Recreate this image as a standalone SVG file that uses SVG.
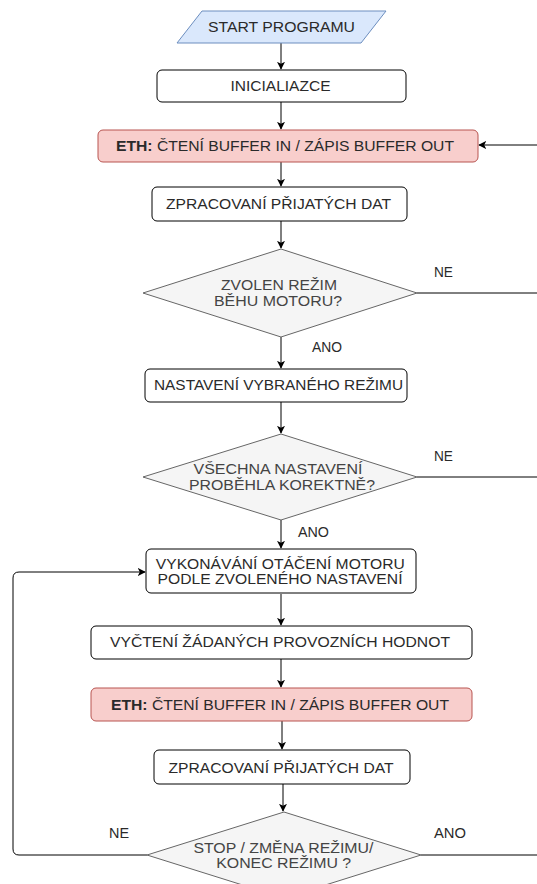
<svg xmlns="http://www.w3.org/2000/svg" width="537" height="884" viewBox="0 0 537 884">
<style>
text{font-family:"Liberation Sans",Arial,sans-serif;font-size:14px;fill:#2a2a2a;text-anchor:middle;dominant-baseline:central}
.box{fill:#fff;stroke:#000;stroke-width:1}
.eth{fill:#f8cecc;stroke:#b85450;stroke-width:1}
.dec{fill:#f5f5f5;stroke:#666;stroke-width:1}
.dt{fill:#444}
.start{fill:#dae8fc;stroke:#6c8ebf;stroke-width:1}
.c{fill:none;stroke:#000;stroke-width:1}
.lbl{text-anchor:start}
</style>
<defs>
<marker id="a" viewBox="0 0 10 10" refX="9" refY="5" markerWidth="8" markerHeight="8" markerUnits="userSpaceOnUse" orient="auto">
<path d="M0,0 L10,5 L0,10 L2.5,5 Z" fill="#000"/>
</marker>
</defs>
<g id="connectors">
<path class="c" d="M281,43 V69" marker-end="url(#a)"/>
<path class="c" d="M281,102 V129" marker-end="url(#a)"/>
<path class="c" d="M281,162 V186" marker-end="url(#a)"/>
<path class="c" d="M281,221 V248" marker-end="url(#a)"/>
<path class="c" d="M537,145 H479" marker-end="url(#a)"/>
<path class="c" d="M417,293 H537"/>
<path class="c" d="M281,337 V368" marker-end="url(#a)"/>
<path class="c" d="M281,402 V433" marker-end="url(#a)"/>
<path class="c" d="M417,477 H537"/>
<path class="c" d="M281,520 V548" marker-end="url(#a)"/>
<path class="c" d="M281,594 V625" marker-end="url(#a)"/>
<path class="c" d="M281,659 V687" marker-end="url(#a)"/>
<path class="c" d="M282,721 V749" marker-end="url(#a)"/>
<path class="c" d="M283,784 V811" marker-end="url(#a)"/>
<path class="c" d="M147,855 H19 Q13,855 13,849 V578 Q13,572 19,572 H145" marker-end="url(#a)"/>
<path class="c" d="M421,855 H537"/>
<text class="lbl" x="434" y="272" textLength="19" lengthAdjust="spacingAndGlyphs">NE</text>
<text class="lbl" x="312" y="347" textLength="30" lengthAdjust="spacingAndGlyphs">ANO</text>
<text class="lbl" x="434" y="456" textLength="19" lengthAdjust="spacingAndGlyphs">NE</text>
<text class="lbl" x="298" y="532" textLength="31" lengthAdjust="spacingAndGlyphs">ANO</text>
<text class="lbl" x="109" y="833" textLength="20" lengthAdjust="spacingAndGlyphs">NE</text>
<text class="lbl" x="434" y="833" textLength="32" lengthAdjust="spacingAndGlyphs">ANO</text>
</g>
<g id="start"><polygon class="start" points="202,11 386,11 361,43 177,43"/><text x="281.5" y="27" textLength="147" lengthAdjust="spacingAndGlyphs">START PROGRAMU</text></g>
<g id="init"><rect class="box" x="157" y="70" width="249" height="32" rx="5"/><text x="280.5" y="86" textLength="100" lengthAdjust="spacingAndGlyphs">INICIALIAZCE</text></g>
<g id="eth1"><rect class="eth" x="98" y="130" width="380" height="32" rx="5"/><text x="285" y="146" textLength="338" lengthAdjust="spacingAndGlyphs"><tspan font-weight="bold">ETH:</tspan> ČTENÍ BUFFER IN / ZÁPIS BUFFER OUT</text></g>
<g id="zprac1"><rect class="box" x="152" y="187" width="255" height="34" rx="5"/><text x="278.5" y="204" textLength="225" lengthAdjust="spacingAndGlyphs">ZPRACOVANÍ PŘIJATÝCH DAT</text></g>
<g id="dec1"><polygon class="dec" points="281,249 417,293 281,337 143,293"/><text class="dt" x="279" y="285" textLength="116" lengthAdjust="spacingAndGlyphs">ZVOLEN REŽIM</text><text class="dt" x="278" y="301" textLength="128" lengthAdjust="spacingAndGlyphs">BĚHU MOTORU?</text></g>
<g id="nastav"><rect class="box" x="145" y="369" width="262" height="33" rx="5"/><text x="278.5" y="385" textLength="249" lengthAdjust="spacingAndGlyphs">NASTAVENÍ VYBRANÉHO REŽIMU</text></g>
<g id="dec2"><polygon class="dec" points="281,434 417,477 281,520 143,477"/><text class="dt" x="278" y="469" textLength="169" lengthAdjust="spacingAndGlyphs">VŠECHNA NASTAVENÍ</text><text class="dt" x="282" y="485" textLength="186" lengthAdjust="spacingAndGlyphs">PROBĚHLA KOREKTNĚ?</text></g>
<g id="vykon"><rect class="box" x="146" y="549" width="270" height="44" rx="5"/><text x="280.3" y="564" textLength="249" lengthAdjust="spacingAndGlyphs">VYKONÁVÁNÍ OTÁČENÍ MOTORU</text><text x="280" y="579" textLength="245" lengthAdjust="spacingAndGlyphs">PODLE ZVOLENÉHO NASTAVENÍ</text></g>
<g id="vycteni"><rect class="box" x="91" y="626" width="381" height="33" rx="5"/><text x="280" y="642" textLength="340" lengthAdjust="spacingAndGlyphs">VYČTENÍ ŽÁDANÝCH PROVOZNÍCH HODNOT</text></g>
<g id="eth2"><rect class="eth" x="91" y="688" width="381" height="33" rx="5"/><text x="280" y="704.5" textLength="338" lengthAdjust="spacingAndGlyphs"><tspan font-weight="bold">ETH:</tspan> ČTENÍ BUFFER IN / ZÁPIS BUFFER OUT</text></g>
<g id="zprac2"><rect class="box" x="154" y="750" width="256" height="34" rx="5"/><text x="281" y="767.5" textLength="225" lengthAdjust="spacingAndGlyphs">ZPRACOVANÍ PŘIJATÝCH DAT</text></g>
<g id="dec3"><polygon class="dec" points="284,812 421,855 284,898 147,855"/><text class="dt" x="283.4" y="847.5" textLength="180" lengthAdjust="spacingAndGlyphs">STOP / ZMĚNA REŽIMU/</text><text class="dt" x="283.7" y="863" textLength="135" lengthAdjust="spacingAndGlyphs">KONEC REŽIMU ?</text></g>
</svg>
